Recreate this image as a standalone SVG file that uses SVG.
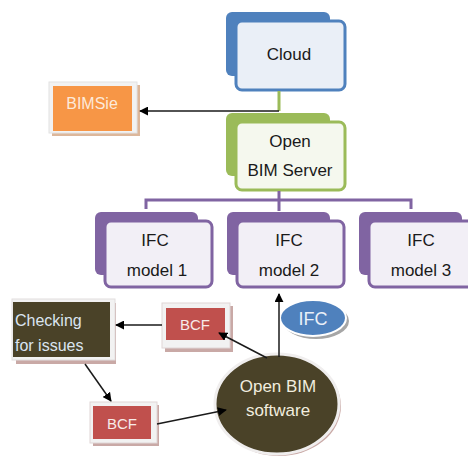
<svg xmlns="http://www.w3.org/2000/svg" width="468" height="457" viewBox="0 0 468 457">
<defs>
<marker id="ah2" viewBox="0 0 10 10" refX="9" refY="5" markerWidth="9" markerHeight="9" orient="auto" markerUnits="userSpaceOnUse">
<path d="M0,0 L10,5 L0,10 z" fill="#000"/>
</marker>
</defs>
<style>
text{font-family:"Liberation Sans",Arial,sans-serif;text-anchor:middle}
.dark{fill:#1a1a1a;font-size:17px}
.conn{stroke:#1a1a1a;stroke-width:1.5;fill:none}
.blueB{fill:#4f81bd}
.blueF{fill:#eaeff7;stroke:#4f81bd;stroke-width:3}
.greenB{fill:#9bbb59}
.greenF{fill:#f5f8ee;stroke:#9bbb59;stroke-width:3}
.purB{fill:#8064a2}
.purF{fill:#f2eff6;stroke:#8064a2;stroke-width:3}
.frame{fill:#f2f2f2;stroke:#e0d6d6;stroke-width:1}
.shadow{fill:#c9a9a6}
.red{fill:#c0504d}
.light{fill:#f7eae9;font-size:15px}
</style>
<rect width="468" height="457" fill="#ffffff"/>
<g id="cloud">
<rect class="blueB" x="226" y="12" width="104" height="64" rx="6"/>
<rect class="blueF" x="236" y="21" width="109" height="69" rx="6"/>
<text class="dark" x="289" y="60">Cloud</text>
</g>
<g id="bimsie">
<rect x="52" y="85" width="88" height="51" fill="#dcb79b"/>
<rect x="49" y="82" width="88" height="51" fill="#f2f2f2" stroke="#e2e2e2"/>
<rect x="53" y="86" width="79" height="45" fill="#f79646"/>
<text x="92" y="109" style="font-size:16px;fill:#fde9d9">BIMSie</text>
</g>
<g id="server">
<rect class="greenB" x="226" y="113" width="104" height="63" rx="6"/>
<rect class="greenF" x="236" y="122" width="109" height="68" rx="6"/>
<text class="dark" x="290" y="147">Open</text>
<text class="dark" x="290" y="176">BIM Server</text>
</g>
<g id="model1">
<rect class="purB" x="95" y="212" width="103" height="63" rx="6"/>
<rect class="purF" x="105" y="221" width="107" height="66" rx="6"/>
<text class="dark" x="155" y="246">IFC</text>
<text class="dark" x="157" y="276">model 1</text>
</g>
<g id="model2">
<rect class="purB" x="227" y="212" width="103" height="63" rx="6"/>
<rect class="purF" x="237" y="221" width="107" height="66" rx="6"/>
<text class="dark" x="289" y="246">IFC</text>
<text class="dark" x="289" y="276">model 2</text>
</g>
<g id="model3">
<rect class="purB" x="359" y="212" width="103" height="63" rx="6"/>
<rect class="purF" x="369" y="221" width="107" height="66" rx="6"/>
<text class="dark" x="421" y="246">IFC</text>
<text class="dark" x="421" y="276">model 3</text>
</g>
<g id="checking">
<rect x="16" y="303" width="100" height="61" fill="#c9a9a6"/>
<rect x="12" y="299" width="103" height="61" fill="#f2f2f2" stroke="#e2dede"/>
<rect x="13" y="302" width="97" height="55" fill="#4a4228"/>
<text x="15" y="326" style="font-size:16px;fill:#dbe5f1;text-anchor:start">Checking</text>
<text x="15" y="351" style="font-size:16px;fill:#dbe5f1;text-anchor:start">for issues</text>
</g>
<g id="bcf1">
<rect x="165" y="306" width="68" height="46" class="shadow"/>
<rect x="162" y="303" width="68" height="45" class="frame"/>
<rect x="166" y="308" width="59" height="32" class="red"/>
<text class="light" x="195" y="330">BCF</text>
</g>
<g id="bcf2">
<rect x="93" y="405" width="66" height="41" class="shadow"/>
<rect x="90" y="402" width="67" height="41" class="frame"/>
<rect x="93" y="406" width="58" height="33" class="red"/>
<text class="light" x="122" y="429">BCF</text>
</g>
<g id="ifc">
<ellipse cx="316" cy="321" rx="33" ry="18" fill="#a6a6a6"/>
<ellipse cx="313" cy="318" rx="33" ry="18" fill="#4f81bd" stroke="#ffffff" stroke-width="2"/>
<text x="313" y="325" style="font-size:18px;fill:#eaf0f8">IFC</text>
</g>
<g id="software">
<ellipse cx="279" cy="406" rx="62" ry="50" fill="#c9a9a6"/>
<ellipse cx="277" cy="404" rx="62" ry="50" fill="#4a4228" stroke="#f0eeee" stroke-width="3"/>
<text x="278" y="392" style="font-size:17px;fill:#f1eddf">Open BIM</text>
<text x="278" y="416" style="font-size:17px;fill:#f1eddf">software</text>
</g>
<g id="connectors">
<line x1="279" y1="91" x2="279" y2="111" stroke="#9bbb59" stroke-width="3"/>
<path d="M279,191 V200 M146,209 V200 H411 V209 M279,200 V211" stroke="#8064a2" stroke-width="3" fill="none"/>
<line class="conn" x1="279" y1="111" x2="140" y2="111" marker-end="url(#ah2)" stroke="#555"/>
<line class="conn" x1="162" y1="325" x2="116" y2="325" marker-end="url(#ah2)"/>
<line class="conn" x1="85" y1="364" x2="111" y2="401" marker-end="url(#ah2)"/>
<line class="conn" x1="157" y1="424" x2="226" y2="410" marker-end="url(#ah2)"/>
<line class="conn" x1="279" y1="357" x2="279" y2="294" marker-end="url(#ah2)"/>
<line class="conn" x1="267" y1="358" x2="219" y2="333" marker-end="url(#ah2)"/>
</g>
</svg>
